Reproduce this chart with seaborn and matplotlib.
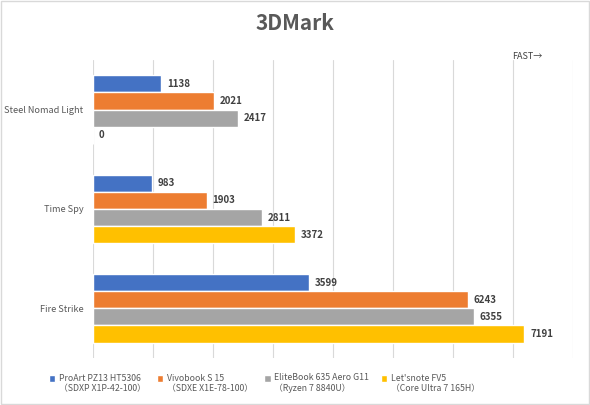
import matplotlib
matplotlib.use("Agg")
import matplotlib.pyplot as plt
import pandas as pd
import seaborn as sns
from matplotlib.patches import Rectangle, Patch
from matplotlib.legend_handler import HandlerPatch

# Data
tests = ["Steel Nomad Light", "Time Spy", "Fire Strike"]
machines = ["ProArt PZ13 HT5306\n（SDXP X1P-42-100）",
            "Vivobook S 15\n（SDXE X1E-78-100）",
            "EliteBook 635 Aero G11\n（Ryzen 7 8840U）",
            "Let'snote FV5\n（Core Ultra 7 165H）"]
proart = [1138, 983, 3599]
vivobook = [2021, 1903, 6243]
elitebook = [2417, 2811, 6355]
letsnote = [0, 3372, 7191]
colors = ["#4472C4", "#ED7D31", "#A5A5A5", "#FFC000"]

sns.set_theme(style="white")
plt.rcParams['font.family'] = ['Noto Sans CJK JP', 'DejaVu Sans']

# Long form table for seaborn
rows = []
for name, vals in zip(machines, [proart, vivobook, elitebook, letsnote]):
    for t, v in zip(tests, vals):
        rows.append({'test': t, 'machine': name, 'score': v})
df = pd.DataFrame(rows)

fig = plt.figure(figsize=(5.9, 4.05), dpi=100)
ax = fig.add_axes([0.1576, 0.116, 0.8136, 0.736])

sns.barplot(data=df, y='test', x='score', hue='machine', order=tests, hue_order=machines,
            palette=colors, orient='h', width=0.69, saturation=1, ax=ax, legend=False)

for cont in ax.containers:
    ax.bar_label(cont, padding=4, fontsize=7, fontweight='bold', color='#404040')

ax.set_xlim(0, 8000)
ax.set_xticks(range(0, 8001, 1000))
ax.set_xticklabels([])
ax.grid(axis='x', color='#d9d9d9', lw=0.8)
ax.set_axisbelow(True)
for s in ax.spines.values():
    s.set_visible(False)
ax.set_xlabel('')
ax.set_ylabel('')
ax.tick_params(axis='y', length=0, pad=7, labelsize=6.6, labelcolor='#595959')
ax.tick_params(axis='x', length=0)

ax.text(0.873, 1.012, "FAST→", transform=ax.transAxes, ha='left', va='center',
        fontsize=6.5, color='#404040')

fig.text(0.5, 0.943, "3DMark", ha='center', va='center', fontsize=15,
         fontweight='bold', color='#595959')


# square marker next to the first line of the two-line label
def top_square(legend, orig_handle, xdescent, ydescent, width, height, fontsize):
    return Rectangle((-xdescent, -ydescent + fontsize * 0.62), height, height)


handles = [Patch(facecolor=c) for c in colors]
ax.legend(handles, machines, loc='upper left', bbox_to_anchor=(-0.109, -0.025), ncol=4,
          frameon=False, fontsize=6.3, handlelength=0.75, handleheight=0.75, handletextpad=0.4,
          columnspacing=1.3, labelcolor='#595959',
          handler_map={Patch: HandlerPatch(patch_func=top_square)})

fig.patches.append(Rectangle((0.002, 0.002), 0.996, 0.996, transform=fig.transFigure,
                             fill=False, edgecolor='#d9d9d9', lw=1))

fig.savefig('out.png', dpi=100)
